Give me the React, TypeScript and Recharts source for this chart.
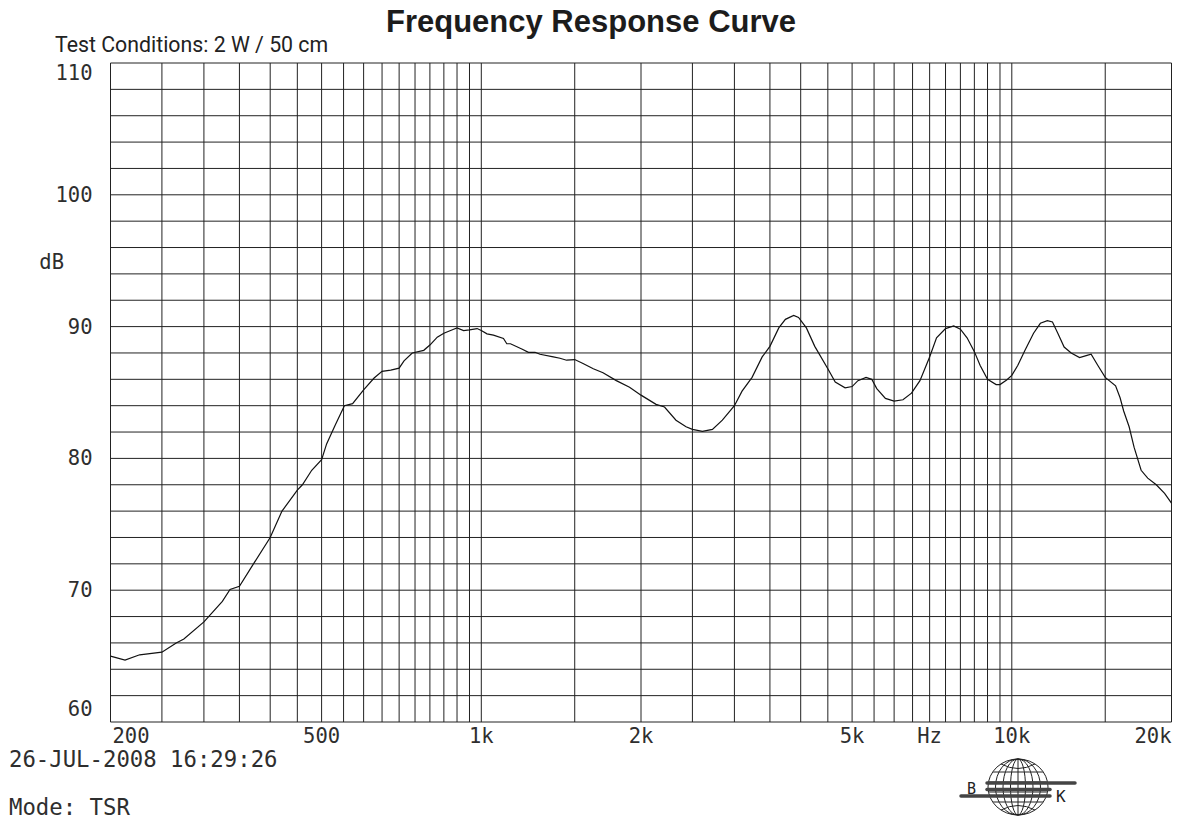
import { LineChart, Line, XAxis, YAxis, CartesianGrid } from "recharts"

const FREQS = [
    200, 213, 227, 250, 266, 275, 300, 325, 336, 350, 372, 400, 421, 450, 460, 479, 500, 511, 530, 552,
    572, 600, 628, 650, 675, 700, 715, 741, 779, 800, 826, 850, 887, 900, 926, 950, 982, 1000, 1025, 1054,
    1101, 1117, 1135, 1192, 1227, 1263, 1290, 1367, 1407, 1448, 1500, 1555, 1626, 1696, 1797, 1903, 2000,
    2135, 2215, 2328, 2432, 2500, 2611, 2727, 2847, 3000, 3101, 3239, 3384, 3500, 3637, 3743, 3880, 3963,
    4100, 4252, 4500, 4647, 4850, 5000, 5128, 5312, 5445, 5565, 5778, 6000, 6235, 6470, 6712, 7000, 7213,
    7500, 7772, 8000, 8235, 8500, 8717, 9000, 9343, 9500, 9780, 10000, 10260, 10590, 10990, 11320, 11670,
    11930, 12210, 12550, 12940, 13420, 13810, 14110, 14530, 15000, 15690, 16000, 16250, 16640, 17000,
    17530, 18040, 18720, 19410, 20000,
]
const LEVELS = [
    65.0, 64.7, 65.1, 65.3, 66.0, 66.3, 67.6, 69.15, 70.05, 70.3, 72.0, 74.0, 76.0, 77.6, 78.0, 79.1, 79.9, 81.1, 82.5, 84.0,
    84.15, 85.2, 86.1, 86.6, 86.7, 86.85, 87.4, 88.0, 88.2, 88.6, 89.2, 89.5, 89.8, 89.9, 89.7, 89.75, 89.85, 89.7, 89.45, 89.35,
    89.1, 88.7, 88.7, 88.3, 88.05, 88.05, 87.9, 87.7, 87.6, 87.45, 87.5, 87.2, 86.8, 86.5, 85.9, 85.4, 84.8,
    84.1, 83.9, 82.9, 82.4, 82.2, 82.05, 82.2, 82.9, 84.0, 85.1, 86.15, 87.7, 88.5, 89.9, 90.55, 90.85, 90.7,
    89.9, 88.5, 86.8, 85.8, 85.35, 85.45, 85.9, 86.15, 86.0, 85.3, 84.55, 84.35, 84.45, 84.95, 85.9, 87.7, 89.15,
    89.85, 90.05, 89.8, 89.15, 88.1, 87.05, 86.0, 85.6, 85.6, 85.95, 86.3, 87.05, 88.2, 89.5, 90.25, 90.45,
    90.35, 89.5, 88.45, 88.0, 87.65, 87.8, 87.9, 87.05, 86.15, 85.5, 84.6, 83.6, 82.4, 80.85,
    79.1, 78.5, 78.0, 77.35, 76.6,
]

// vertical grid lines of the plotter sheet
const GRID_FREQS = [
    200, 250, 300, 350, 400, 450, 500, 550, 600, 650, 700, 750, 800, 850, 900, 950, 1000, 1500,
    2000, 2500, 3000, 3500, 4000, 4500, 5000, 5500, 6000, 6500, 7000, 7500, 8000, 8500, 9000, 9500,
    10000, 15000, 20000,
]
const X_LABELS: Record<number, string> = {
    200: "200", 500: "500", 1000: "1k", 2000: "2k", 5000: "5k", 7000: "Hz", 10000: "10k", 20000: "20k",
}
const Y_GRID = [60, 62, 64, 66, 68, 70, 72, 74, 76, 78, 80, 82, 84, 86, 88, 90, 92, 94, 96, 98, 100, 102, 104, 106, 108, 110]
const Y_LABELS = [60, 70, 80, 90, 100, 110]

const data = FREQS.map((f, i) => ({ f, db: LEVELS[i] }))

const MONO = "'DejaVu Sans Mono', 'Liberation Mono', monospace"
const INK = "#2e2e2e"

function XTick(props: any) {
    const { x, y, payload } = props
    const label = X_LABELS[payload.value]
    if (!label) return <g />
    let anchor = "middle"
    let dx = 0
    if (payload.value === 200) { anchor = "start"; dx = 2 }
    if (payload.value === 20000) { anchor = "end"; dx = 0 }
    return (
        <text x={x + dx} y={y} dy={13} textAnchor={anchor} fontFamily={MONO} fontSize={20.5} fill={INK}>
            {label}
        </text>
    )
}

function YTick(props: any) {
    const { x, y, payload } = props
    if (!Y_LABELS.includes(payload.value)) return <g />
    let shift = 7
    if (payload.value === 110) shift = 17
    if (payload.value === 60) shift = -6
    return (
        <text x={x} y={y + shift} textAnchor="end" fontFamily={MONO} fontSize={20.5} fill={INK}>
            {payload.value}
        </text>
    )
}

function Logo() {
    const cx = 1018, cy = 787, rx = 30, ry = 28
    return (
        <g stroke="#222" fill="none" strokeWidth={1}>
            <ellipse cx={cx} cy={cy} rx={rx} ry={ry} />
            {[0.25, 0.5, 0.75].map((k) => (
                <ellipse key={k} cx={cx} cy={cy} rx={rx * k} ry={ry} />
            ))}
            <line x1={cx} y1={cy - ry} x2={cx} y2={cy + ry} />
            <path d={`M ${cx - 17} ${cy - 23} Q ${cx} ${cy - 14} ${cx + 17} ${cy - 23}`} />
            <path d={`M ${cx - 17} ${cy + 23} Q ${cx} ${cy + 14} ${cx + 17} ${cy + 23}`} />
            <line x1={cx - 25} y1={cy - 15} x2={cx + 25} y2={cy - 15} />
            <line x1={cx - 25} y1={cy + 15} x2={cx + 25} y2={cy + 15} />
            <line x1={cx - 29.5} y1={cy - 5} x2={cx + 29.5} y2={cy - 5} />
            <line x1={cx - 29.5} y1={cy + 5} x2={cx + 29.5} y2={cy + 5} />
            <g stroke="#444" strokeWidth={3.5} strokeLinecap="round">
                <line x1={987} y1={783} x2={1075} y2={783} />
                <line x1={987} y1={789.5} x2={1050} y2={789.5} />
                <line x1={961} y1={796} x2={1050} y2={796} />
            </g>
            <text x={967} y={793.5} fontFamily={MONO} fontSize={15} fill="#222" stroke="none">B</text>
            <text x={1056} y={801.5} fontFamily={MONO} fontSize={16} fill="#222" stroke="none">K</text>
        </g>
    )
}

export default function App() {
    return (
        <div style={{ position: "absolute", left: 0, top: 0, width: 1177, height: 825, background: "#fff" }}>
            <LineChart width={1177} height={825} data={data} margin={{ top: 63, right: 5.5, bottom: 73, left: 60.5 }}>
                <CartesianGrid stroke="#222" strokeWidth={1} />
                <XAxis
                    dataKey="f"
                    type="number"
                    scale="log"
                    domain={[200, 20000]}
                    allowDataOverflow
                    ticks={GRID_FREQS}
                    interval={0}
                    tick={<XTick />}
                    tickLine={false}
                    axisLine={false}
                    tickSize={0}
                    tickMargin={8}
                    height={30}
                />
                <YAxis
                    type="number"
                    domain={[60, 110]}
                    allowDataOverflow
                    ticks={Y_GRID}
                    interval={0}
                    tick={<YTick />}
                    tickLine={false}
                    axisLine={false}
                    tickSize={0}
                    tickMargin={18}
                    width={50}
                />
                <Line dataKey="db" type="linear" stroke="#111" strokeWidth={1.2} dot={false} isAnimationActive={false} />
            </LineChart>
            <svg width={1177} height={825} style={{ position: "absolute", left: 0, top: 0, pointerEvents: "none" }}>
                <text x={591} y={32} textAnchor="middle" fontFamily="'Liberation Sans', Arial, sans-serif" fontWeight="bold" fontSize={31} fill="#1c1c1c">
                    Frequency Response Curve
                </text>
                <text x={55} y={52} fontFamily="Roboto, 'Noto Sans', sans-serif" fontSize={21.3} fill="#222">
                    Test Conditions: 2 W / 50 cm
                </text>
                <text x={64} y={269} textAnchor="end" fontFamily={MONO} fontSize={20.5} fill={INK}>dB</text>
                <text x={9} y={767} fontFamily={MONO} fontSize={22.3} fill={INK}>26-JUL-2008 16:29:26</text>
                <text x={9} y={815} fontFamily={MONO} fontSize={22.3} fill={INK}>Mode: TSR</text>
                <Logo />
            </svg>
        </div>
    )
}
